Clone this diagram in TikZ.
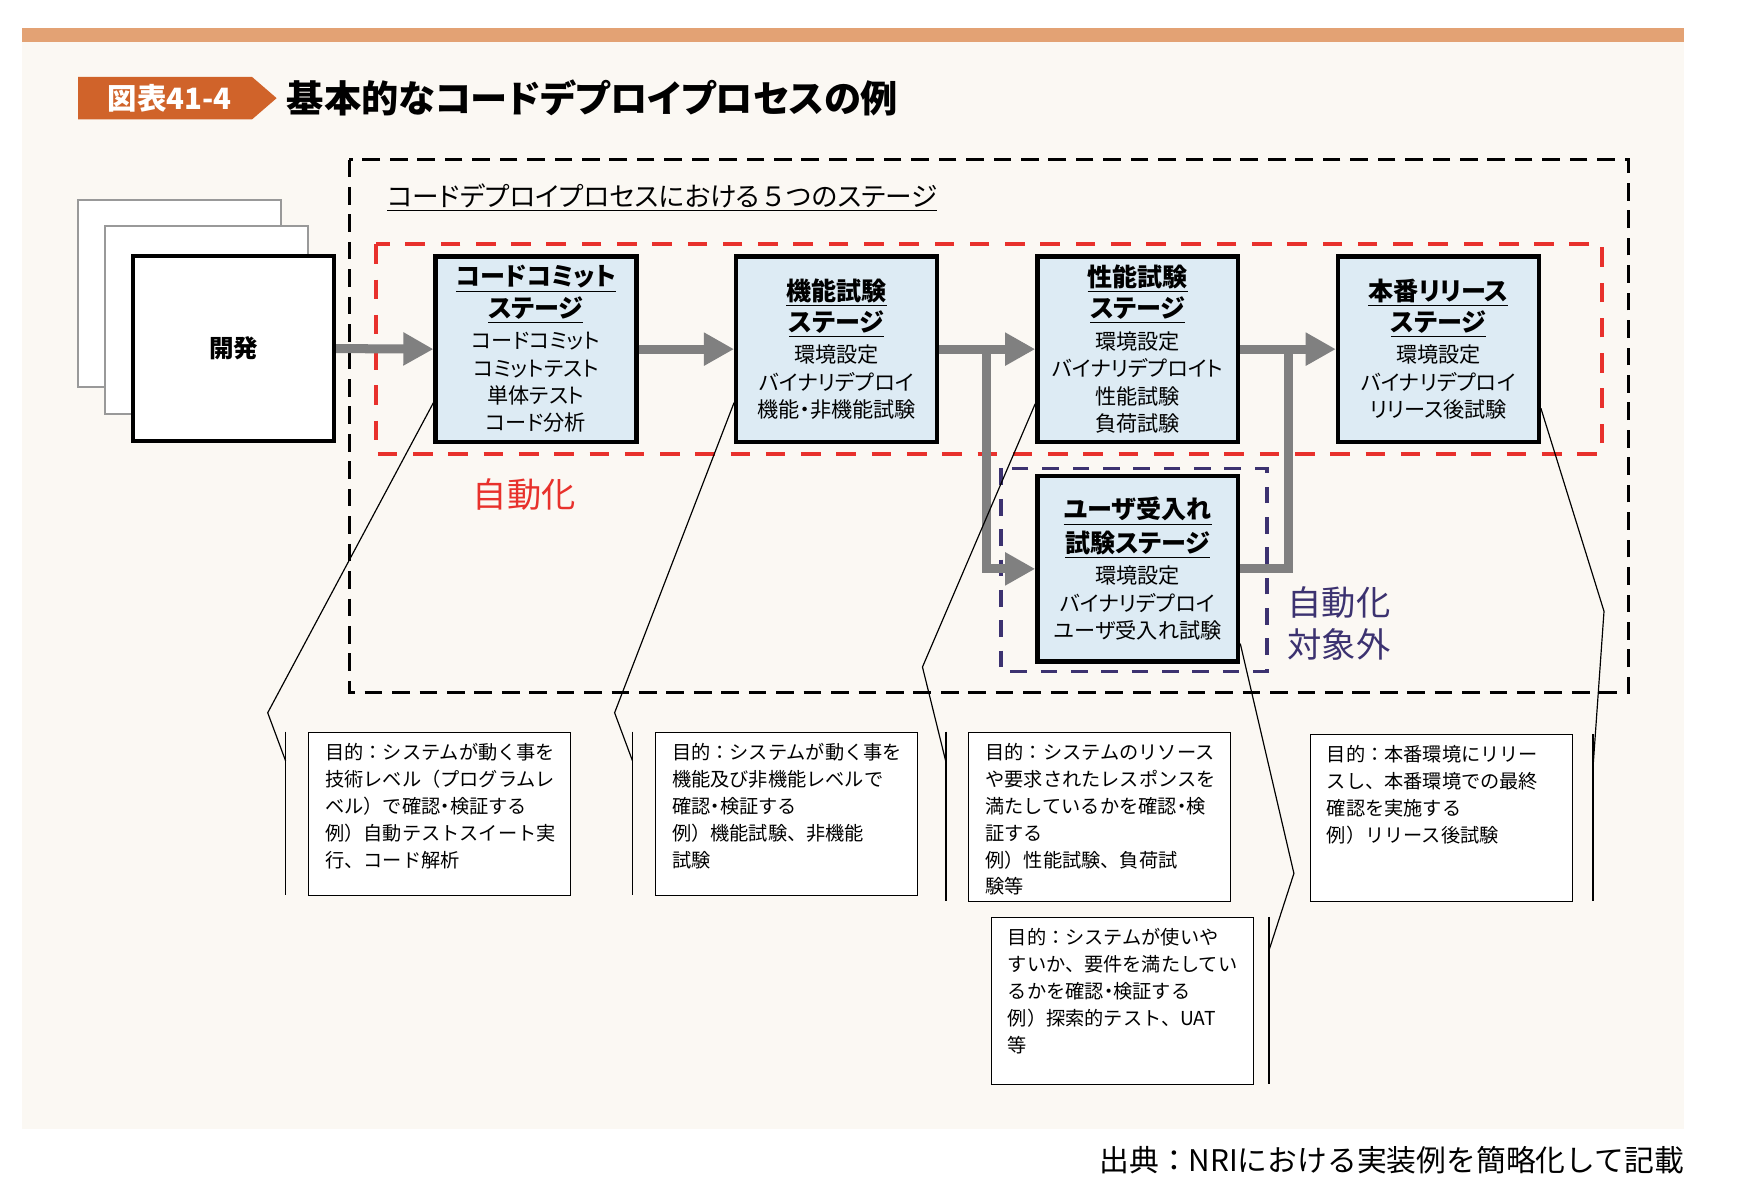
\documentclass[tikz,border=0pt]{standalone}
\usepackage{fontspec}
\setmainfont{Noto Sans CJK JP}[RawFeature=+palt]
\usepackage{tikz}
\usepackage{xcolor}
\usetikzlibrary{shapes,arrows,arrows.meta,positioning,fit,calc}

\definecolor{bgcream}{HTML}{FBF8F3}
\definecolor{barorange}{HTML}{E3A274}
\definecolor{tagorange}{HTML}{D0632A}
\definecolor{stageblue}{HTML}{DDEBF4}
\definecolor{autored}{HTML}{E8312C}
\definecolor{manualpurple}{HTML}{3C3270}
\definecolor{flowgray}{HTML}{808080}

\tikzset{
  stage/.style={draw=black, line width=2.2pt, fill=stageblue, minimum width=3.6cm, minimum height=3.32cm,
    align=center, inner sep=0pt, font=\fontsize{10.8}{14}\selectfont},
  devbox/.style={draw=black, line width=2.2pt, fill=white, minimum width=3.6cm, minimum height=3.32cm,
    font=\bfseries\fontsize{12.5}{15}\selectfont},
  paper/.style={draw=gray!80, line width=1pt, fill=white},
  flow/.style={draw=flowgray, line width=4.6pt, -{Triangle[length=0.54cm,width=0.56cm]}},
  outerbox/.style={draw=black, line width=1.6pt, dash pattern=on 9pt off 5pt},
  autobox/.style={draw=autored, line width=2pt, dash pattern=on 10pt off 8pt},
  manualbox/.style={draw=manualpurple, line width=2pt, dash pattern=on 8.5pt off 7pt},
  note/.style={draw=black, line width=0.6pt, fill=white, anchor=north west, inner xsep=0.3cm, inner ysep=0.2cm,
    font=\addfontfeature{RawFeature=-palt}\fontsize{9.8}{13.7}\selectfont},
  leader/.style={draw=black, line width=0.6pt},
  bar/.style={draw=black, line width=0.9pt}
}
\newcommand{\stgtitle}[1]{{\bfseries\fontsize{12.8}{16}\selectfont\underline{#1}}}
\newcommand{\fw}[1]{{\addfontfeature{RawFeature=-palt}#1}}
\newcommand{\nd}{{\addfontfeature{RawFeature=+palt}・}}

\begin{document}
\begin{tikzpicture}[x=0.02cm, y=-0.02cm]
  \useasboundingbox (0,0) rectangle (1568,1068);
  \fill[bgcream] (20,38) rectangle (1510,1012);
  \fill[barorange] (20,25) rectangle (1510,38);

  % title
  \fill[tagorange] (70,69) -- (226,69) -- (248,88) -- (226,107) -- (70,107) -- cycle;
  \node[text=white, font=\bfseries\fontsize{15}{18}\selectfont] (tag) at (152,88) {図表41-4};
  \node[anchor=west, font=\bfseries\fontsize{19}{22}\selectfont] (title) at (251,88) {基本的なコードデプロイプロセスの例};

  % frames
  \draw[outerbox] (313,143) rectangle (1460,621);
  \draw[autobox] (337,219) rectangle (1436,407);
  \draw[manualbox] (897,420) rectangle (1136,602);
  \node[anchor=west, inner sep=0pt, font=\fontsize{13.6}{17}\selectfont] (frame) at (347,177) {\underline{コードデプロイプロセスにおける\fw{５}つのステージ}};
  \node[text=autored, font=\fontsize{17.5}{21}\selectfont] (autolbl) at (470,443) {自動化};
  \node[anchor=west, align=left, inner sep=0pt, text=manualpurple, font=\fontsize{17.5}{21.6}\selectfont] (manuallbl) at (1154,559) {自動化\\対象外};

  % development
  \foreach \d in {0,24} \draw[paper] (70+\d,179+\d) rectangle ++(182,168);
  \node[devbox] (dev) at (209.5,312.5) {開発};

  % stages
  \node[stage] (commit) at (480.5,313) {\stgtitle{コードコミット}\\[2pt] \stgtitle{ステージ}\\[2pt]
    コードコミット\\ コミットテスト\\ 単体テスト\\ コード分析};
  \node[stage] (func) at (750,313) {\stgtitle{機能試験}\\[2pt] \stgtitle{ステージ}\\[2pt]
    環境設定\\ バイナリデプロイ\\ 機能・非機能試験};
  \node[stage] (perf) at (1020,313) {\stgtitle{性能試験}\\[2pt] \stgtitle{ステージ}\\[2pt]
    環境設定\\ バイナリデプロイト\\ 性能試験\\ 負荷試験};
  \node[stage] (rel) at (1289.5,313) {\stgtitle{本番リリース}\\[2pt] \stgtitle{ステージ}\\[2pt]
    環境設定\\ バイナリデプロイ\\ リリース後試験};
  \node[stage] (uat) at (1020,510) {\stgtitle{ユーザ受入れ}\\[2pt] \stgtitle{試験ステージ}\\[2pt]
    環境設定\\ バイナリデプロイ\\ ユーザ受入れ試験};

  % flow
  \draw[flow] (dev.east) -- (commit.west);
  \draw[flow] (commit.east) -- (func.west);
  \draw[flow] (func.east) -- (perf.west);
  \coordinate (split) at (884,313);
  \draw[flow] (split) |- (uat.west);
  \draw[flow] (perf.east) -- (rel.west);
  \coordinate (merge) at (1155,313);
  \draw[flow, -] (uat.east) -| (merge);

  % notes
  \node[note] (ncommit) at (276,656) {\parbox[t][2.52cm][t]{4.1cm}{\raggedright
    目的：システムが動く事を\\技術レベル（プログラムレ\\ベル）で確認\nd 検証する\\例）自動テストスイート実\\行、コード解析}};
  \node[note] (nfunc) at (587,656) {\parbox[t][2.52cm][t]{4.1cm}{\raggedright
    目的：システムが動く事を\\機能及び非機能レベルで\\確認\nd 検証する\\例）機能試験、非機能\\試験}};
  \node[note] (nperf) at (868,656) {\parbox[t][2.64cm][t]{4.1cm}{\raggedright
    目的：システムのリソース\\や要求されたレスポンスを\\満たしているかを確認\nd 検\\証する\\例）性能試験、負荷試\\験等}};
  \node[note] (nrel) at (1174,658) {\parbox[t][2.6cm][t]{4.1cm}{\raggedright
    目的：本番環境にリリー\\スし、本番環境での最終\\確認を実施する\\例）リリース後試験}};
  \node[note] (nuat) at (888,822) {\parbox[t][2.6cm][t]{4.1cm}{\raggedright
    目的：システムが使いや\\すいか、要件を満たしてい\\るかを確認\nd 検証する\\例）探索的テスト、UAT\\等}};

  % callout bars and leaders
  \foreach \x/\ya/\yb in {256/656/802, 567/656/802, 848/656/808, 1428/658/808, 1138/822/972}
    \draw[bar] (\x,\ya) -- (\x,\yb);
  \draw[leader] ([yshift=-0.96cm]commit.west) -- (240,639) -- (256,682);
  \draw[leader] ([yshift=-0.96cm]func.west) -- (551,639) -- (567,682);
  \draw[leader] ([yshift=-0.98cm]perf.west) -- (827,598) -- (848,683);
  \draw[leader] ([yshift=-1.06cm]rel.east) -- (1438,548) -- (1428,690);
  \draw[leader] ([yshift=-1.34cm]uat.east) -- (1160,783) -- (1138,851);

  % source
  \node[anchor=east, inner sep=0pt, font=\addfontfeature{RawFeature=-palt}\fontsize{15.2}{18}\selectfont] (src) at (1510,1040) {出典：NRIにおける実装例を簡略化して記載};
\end{tikzpicture}
\end{document}
